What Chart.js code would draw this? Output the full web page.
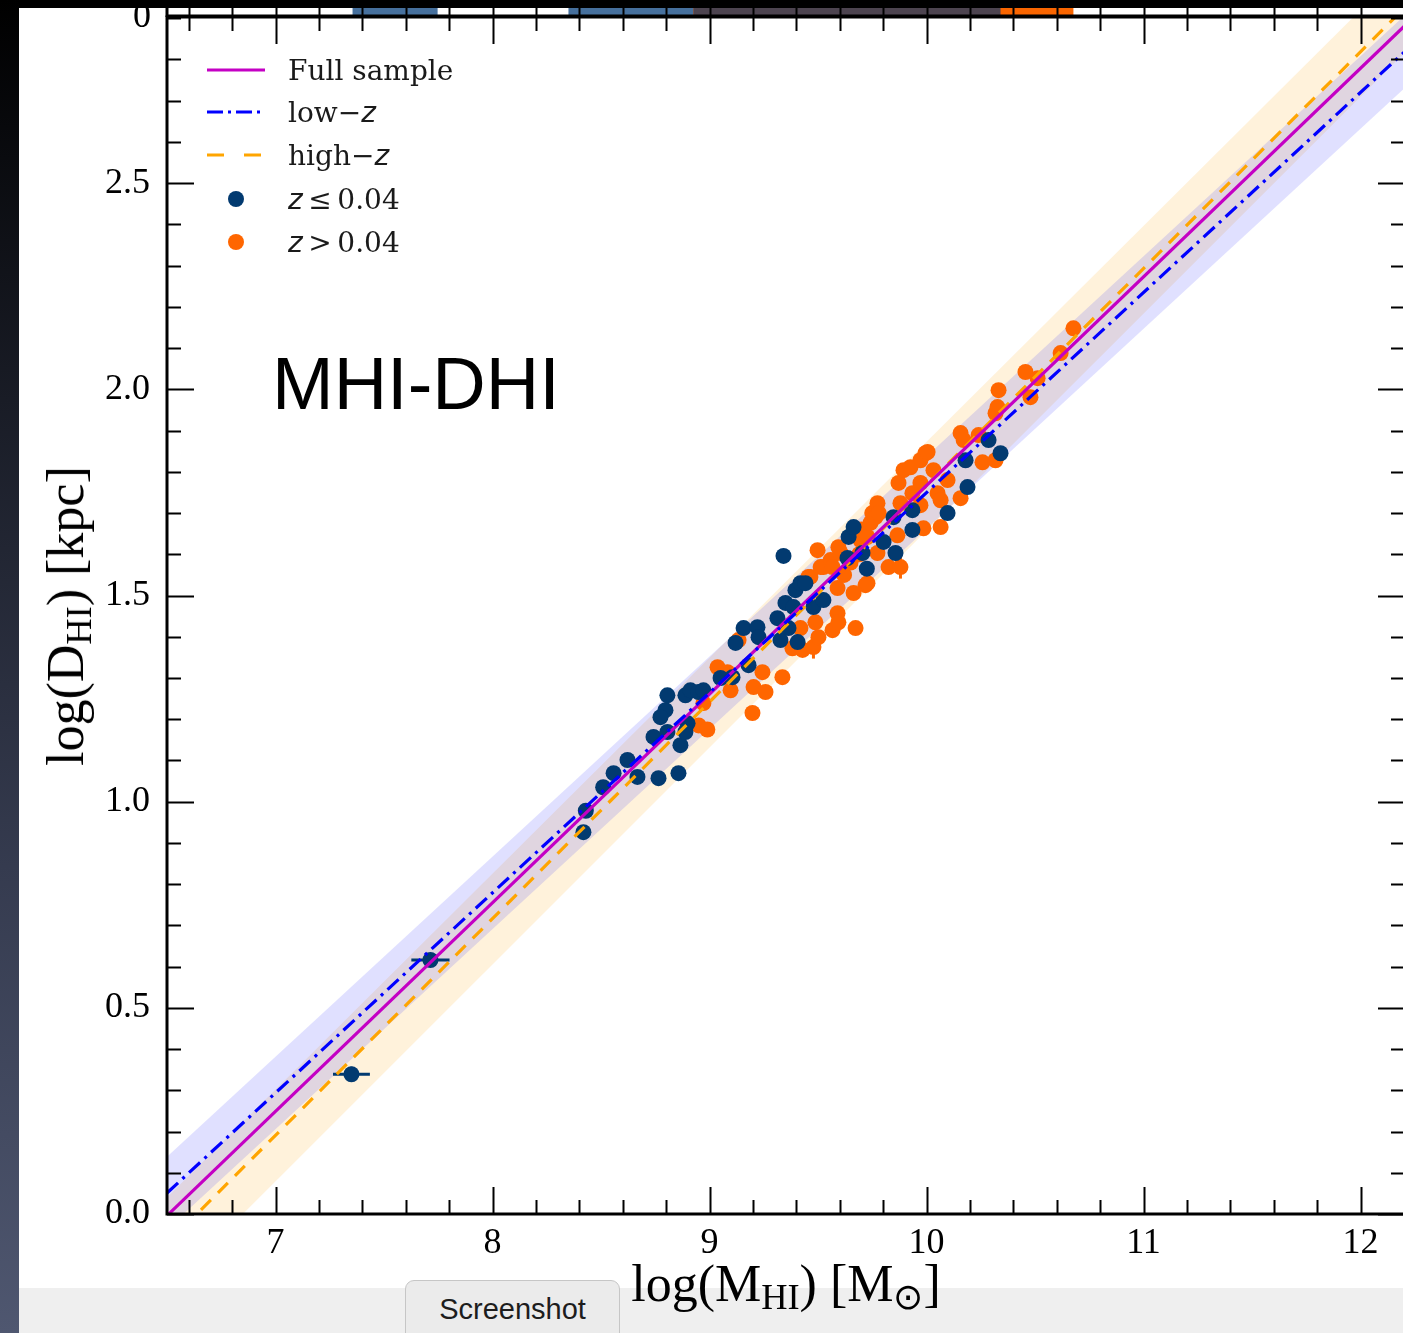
<!DOCTYPE html>
<html>
<head>
<meta charset="utf-8">
<script src="https://cdn.jsdelivr.net/npm/chart.js@4.4.1/dist/chart.umd.min.js"></script>
<style>
  html, body { margin: 0; padding: 0; background: #000; }
  #wrap { position: relative; width: 1403px; height: 1333px; overflow: hidden; background: #fff; }
  #c { position: absolute; left: 0; top: 0; z-index: 0; }
  .abs { position: absolute; white-space: nowrap; }
  #lstrip { left: 0; top: 0; width: 19px; height: 1333px; z-index: 6;
    background: linear-gradient(#000 0%, #191c26 30%, #353b4f 65%, #4f5770 100%); }
  #tstrip { left: 0; top: 0; width: 1403px; height: 8px; background: #000; z-index: 5; }
  #bstrip { left: 19px; top: 1288px; width: 1384px; height: 45px; background: #efefef; z-index: 1; }
  #shot { left: 405px; top: 1280px; width: 213px; height: 70px; background: #ebebeb; border: 1.5px solid #c6c6c6;
    border-radius: 9px; z-index: 2; font: 29px "Liberation Sans", sans-serif; color: #1d1d1d;
    text-align: center; line-height: 56px; }
  .serif { font-family: "Liberation Serif", serif; color: #000; }
  #top0 { left: 100px; width: 51px; top: -6px; font-size: 36px; line-height: 43px; text-align: right; z-index: 4; }
  #xtitle { left: 786px; top: 1258px; font-size: 52px; line-height: 1; transform: translateX(-50%); z-index: 3; }
  #ytitle { left: 66px; top: 616px; font-size: 52px; line-height: 1; transform: translate(-50%, -50%) rotate(-90deg); z-index: 3; }
  sub { font-size: 70%; vertical-align: -0.22em; line-height: 0; }
  #note { left: 272px; top: 347px; font: 74px/1 "Liberation Sans", sans-serif; color: #000; z-index: 3; }
  .lg { left: 200px; height: 40px; display: flex; align-items: center; z-index: 3;
    font: 28px "DejaVu Serif", serif; color: #1a1a1a; }
  .lg svg { width: 72px; height: 40px; margin-right: 16px; }
  .z { font-family: "DejaVu Sans", sans-serif; font-style: italic; }
</style>
</head>
<body>
<div id="wrap">
  <canvas id="c" width="1410" height="1290"></canvas>
  <div id="lstrip" class="abs"></div>
  <div id="tstrip" class="abs"></div>
  <div id="top0" class="abs serif">0</div>
  <div id="bstrip" class="abs"></div>
  <div id="shot" class="abs">Screenshot</div>
  <div id="xtitle" class="abs serif">log(M<sub>HI</sub>) [M<sub>⊙</sub>]</div>
  <div id="ytitle" class="abs serif">log(D<sub>HI</sub>) [kpc]</div>
  <div id="note" class="abs">MHI-DHI</div>

  <div class="abs lg" style="top:50px"><svg><line x1="7" y1="20" x2="65" y2="20" stroke="#c400c4" stroke-width="3"/></svg>Full sample</div>
  <div class="abs lg" style="top:92px"><svg><line x1="7" y1="20" x2="65" y2="20" stroke="#0000ff" stroke-width="3" stroke-dasharray="16 5 3 5"/></svg>low−<span class="z">z</span></div>
  <div class="abs lg" style="top:135px"><svg><line x1="7" y1="20" x2="65" y2="20" stroke="#ffa500" stroke-width="3" stroke-dasharray="17 20"/></svg>high−<span class="z">z</span></div>
  <div class="abs lg" style="top:179px"><svg><circle cx="36" cy="20" r="8" fill="#023a70"/></svg><span class="z">z</span>&thinsp;≤&thinsp;0.04</div>
  <div class="abs lg" style="top:222px"><svg><circle cx="36" cy="20" r="8" fill="#ff6600"/></svg><span class="z">z</span>&thinsp;&gt;&thinsp;0.04</div>
</div>

<script>
// axis ticks
const xTickValues = [7, 8, 9, 10, 11, 12];
const xTickLabels = ['7', '8', '9', '10', '11', '12'];
const yTickValues = [0, 0.5, 1, 1.5, 2, 2.5];
const yTickLabels = ['0.0', '0.5', '1.0', '1.5', '2.0', '2.5'];

// z <= 0.04 galaxies
const lowzX = [7.35, 7.714, 8.419, 8.43, 8.51, 8.558, 8.622, 8.668, 8.765, 8.857, 8.742, 8.806, 8.866, 8.797,
  8.774, 8.806, 8.889, 8.912, 8.949, 8.899, 8.889, 8.972, 9.051, 9.106, 9.12, 9.157, 9.221, 9.226, 9.18,
  9.313, 9.327, 9.364, 9.406, 9.341, 9.35, 9.387, 9.396, 9.419, 9.442, 9.479, 9.525, 9.636, 9.641, 9.664,
  9.705, 9.725, 9.802, 9.857, 9.848, 9.935, 9.935, 10.097, 10.189, 10.18, 10.286, 10.341];
const lowzY = [0.339, 0.616, 0.926, 0.978, 1.035, 1.069, 1.101, 1.06, 1.057, 1.069, 1.157, 1.169, 1.137, 1.222,
  1.205, 1.258, 1.258, 1.27, 1.266, 1.19, 1.169, 1.27, 1.3, 1.302, 1.385, 1.421, 1.423, 1.399, 1.331,
  1.445, 1.392, 1.421, 1.387, 1.596, 1.482, 1.472, 1.513, 1.53, 1.53, 1.472, 1.489, 1.591, 1.642, 1.666,
  1.603, 1.565, 1.63, 1.603, 1.69, 1.707, 1.659, 1.7, 1.763, 1.828, 1.877, 1.845];

// z > 0.04 galaxies
const highzX = [8.95, 8.99, 8.972, 9.037, 9.083, 9.097, 9.134, 9.198, 9.203, 9.244, 9.258, 9.336, 9.382, 9.419,
  9.429, 9.456, 9.465, 9.479, 9.488, 9.498, 9.502, 9.512, 9.525, 9.558, 9.567, 9.567, 9.59, 9.59, 9.594,
  9.594, 9.604, 9.62, 9.65, 9.664, 9.673, 9.69, 9.696, 9.70, 9.719, 9.728, 9.728, 9.742, 9.75, 9.765, 9.774,
  9.774, 9.78, 9.825, 9.866, 9.871, 9.88, 9.88, 9.894, 9.926, 9.935, 9.972, 9.972, 9.972, 9.986, 9.995,
  10.005, 10.032, 10.051, 10.065, 10.065, 10.097, 10.157, 10.171, 10.157, 10.24, 10.258, 10.318, 10.318,
  10.327, 10.332, 10.456, 10.479, 10.512, 10.618, 10.677];
const highzY = [1.185, 1.175, 1.239, 1.326, 1.314, 1.27, 1.392, 1.215, 1.278, 1.314, 1.266, 1.302, 1.372, 1.421,
  1.368, 1.545, 1.545, 1.375, 1.435, 1.61, 1.399, 1.569, 1.569, 1.586, 1.569, 1.416, 1.518, 1.457, 1.435,
  1.617, 1.603, 1.55, 1.58, 1.506, 1.421, 1.60, 1.634, 1.66, 1.525, 1.642, 1.53, 1.676, 1.70, 1.69, 1.724,
  1.603, 1.70, 1.569, 1.646, 1.773, 1.569, 1.724, 1.804, 1.811, 1.748, 1.828, 1.773, 1.719, 1.663, 1.845,
  1.848, 1.804, 1.748, 1.731, 1.666, 1.78, 1.894, 1.877, 1.736, 1.889, 1.823, 1.828, 1.942,
  1.957, 1.998, 2.042, 1.981, 2.027, 2.088, 2.148];

// error bars that show outside the markers
const errX = [7.35, 7.714, 9.479, 9.88, 9.594];
const errY = [0.339, 0.616, 1.375, 1.569, 1.435];
const errXerr = [0.085, 0.088, 0.0, 0.0, 0.0];
const errYerr = [0.018, 0.012, 0.028, 0.028, 0.025];
const errColor = ['#023a70', '#023a70', '#ff6600', '#ff6600', '#ff6600'];

// fitted relations and their scatter bands
const fitX = [6.5, 12.21];
const fullFit = [-0.004, 2.885];
const lowzFit = [0.051, 2.822];
const highzFit = [-0.072, 2.929];
const lowzBandUpper = [0.139, 2.91];
const lowzBandLower = [-0.037, 2.734];
const highzBandUpper = [0.040, 3.03];
const highzBandLower = [-0.184, 2.82];

// histogram panel above (only its lowest strip is in view)
const histLowz = [[7.355, 7.747], [8.35, 10.341]];
const histHighz = [[8.926, 10.677]];

const pts = (xs, ys) => xs.map((x, i) => ({ x: x, y: ys[i] }));

function band(ys, color, fill, order) {
  return { type: 'line', data: pts(fitX, ys), borderWidth: 0, pointRadius: 0,
    backgroundColor: color, fill: fill, order: order };
}
function fitLine(ys, color, dash, order) {
  return { type: 'line', data: pts(fitX, ys), borderColor: color, borderWidth: 3.2,
    borderDash: dash, pointRadius: 0, fill: false, order: order };
}

const errorBars = {
  id: 'errorBars',
  beforeDatasetDraw(chart, args) {
    if (chart.data.datasets[args.index].label !== 'z > 0.04') return;
    const { ctx, scales: { x, y } } = chart;
    ctx.save();
    ctx.lineWidth = 3;
    errX.forEach((v, i) => {
      ctx.strokeStyle = errColor[i];
      const px = x.getPixelForValue(v), py = y.getPixelForValue(errY[i]);
      ctx.beginPath();
      if (errXerr[i] > 0) {
        ctx.moveTo(x.getPixelForValue(v - errXerr[i]), py);
        ctx.lineTo(x.getPixelForValue(v + errXerr[i]), py);
      }
      ctx.moveTo(px, y.getPixelForValue(errY[i] - errYerr[i]));
      ctx.lineTo(px, y.getPixelForValue(errY[i] + errYerr[i]));
      ctx.stroke();
    });
    ctx.restore();
  }
};

const near = (v, step) => Math.abs(v / step - Math.round(v / step)) < 1e-6;

const frame = {
  id: 'frame',
  afterDatasetsDraw(chart) {
    const { ctx, chartArea: a, scales: { x, y } } = chart;
    ctx.save();
    // histogram strip above the axes
    const stripTop = a.top - 12;
    const span = (lo, hi) => ctx.fillRect(x.getPixelForValue(lo), stripTop, x.getPixelForValue(hi) - x.getPixelForValue(lo), 12);
    ctx.fillStyle = '#46709d';
    histLowz.forEach(s => span(s[0], s[1]));
    ctx.fillStyle = '#f96500';
    histHighz.forEach(s => span(s[0], s[1]));
    ctx.fillStyle = '#4d4450';
    histLowz.forEach(s => histHighz.forEach(h => {
      const lo = Math.max(s[0], h[0]), hi = Math.min(s[1], h[1]);
      if (hi > lo) span(lo, hi);
    }));

    ctx.strokeStyle = '#000';
    ctx.lineWidth = 2;
    ctx.beginPath();
    x.ticks.forEach(t => {
      const px = Math.round(x.getPixelForValue(t.value)) + 0.5;
      const len = near(t.value, 1) ? 27 : 14;
      ctx.moveTo(px, a.bottom); ctx.lineTo(px, a.bottom - len);
      ctx.moveTo(px, a.top); ctx.lineTo(px, a.top + len);
      ctx.moveTo(px, a.top); ctx.lineTo(px, stripTop);
    });
    y.ticks.forEach(t => {
      const py = Math.round(y.getPixelForValue(t.value)) + 0.5;
      const len = near(t.value, 0.5) ? 27 : 14;
      ctx.moveTo(a.left, py); ctx.lineTo(a.left + len, py);
      ctx.moveTo(a.right, py); ctx.lineTo(a.right - len, py);
    });
    ctx.stroke();

    ctx.lineWidth = 3;
    ctx.strokeRect(a.left, a.top, a.right - a.left, a.bottom - a.top);
    ctx.beginPath();
    ctx.moveTo(a.left, a.top); ctx.lineTo(a.left, 0);
    ctx.moveTo(a.left, a.top - 1); ctx.lineTo(a.right, a.top - 1);
    ctx.stroke();
    ctx.restore();
  }
};

const ctx = document.getElementById('c').getContext('2d');
const chart = new Chart(ctx, {
  type: 'scatter',
  data: {
    datasets: [
      band(lowzBandUpper, 'rgba(0,0,255,0.12)', '+1', 10),
      band(lowzBandLower, 'rgba(0,0,0,0)', false, 10),
      band(highzBandUpper, 'rgba(255,165,0,0.14)', '+1', 11),
      band(highzBandLower, 'rgba(0,0,0,0)', false, 11),
      { label: 'z > 0.04', data: pts(highzX, highzY), pointRadius: 8, pointBorderWidth: 0,
        pointBackgroundColor: '#ff6600', order: 6 },
      { label: 'z <= 0.04', data: pts(lowzX, lowzY), pointRadius: 8, pointBorderWidth: 0,
        pointBackgroundColor: '#023a70', order: 5 },
      fitLine(highzFit, '#ffa500', [14, 10], 3),
      fitLine(fullFit, '#c400c4', [], 2),
      fitLine(lowzFit, '#0000ff', [15, 6, 3, 6], 1)
    ]
  },
  options: {
    responsive: false,
    devicePixelRatio: 1,
    animation: false,
    events: [],
    layout: { autoPadding: false, padding: { top: 17, right: 5, bottom: 0, left: 0 } },
    plugins: { legend: { display: false }, tooltip: { enabled: false } },
    scales: {
      x: {
        type: 'linear', min: 6.5, max: 12.205,
        grid: { display: false, drawTicks: false }, border: { display: false },
        afterBuildTicks: s => { const t = []; for (let i = 33; i <= 61; i++) t.push({ value: i / 5 }); s.ticks = t; },
        afterFit: s => { s.height = 76; s.paddingLeft = 0; s.paddingRight = 0; },
        ticks: {
          autoSkip: false, maxRotation: 0, padding: 8, color: '#000',
          font: { family: 'Liberation Serif', size: 36 },
          callback: v => { const k = xTickValues.findIndex(m => Math.abs(m - v) < 1e-6); return k < 0 ? '' : xTickLabels[k]; }
        }
      },
      y: {
        type: 'linear', min: 0, max: 2.903,
        grid: { display: false, drawTicks: false }, border: { display: false },
        afterBuildTicks: s => { const t = []; for (let i = 0; i <= 29; i++) t.push({ value: i / 10 }); s.ticks = t; },
        afterFit: s => { s.width = 167; s.paddingTop = 0; s.paddingBottom = 0; },
        ticks: {
          autoSkip: false, padding: 17, color: '#000',
          font: { family: 'Liberation Serif', size: 36 },
          callback: v => { const k = yTickValues.findIndex(m => Math.abs(m - v) < 1e-6); return k < 0 ? '' : yTickLabels[k]; }
        }
      }
    }
  },
  plugins: [errorBars, frame]
});
</script>
</body>
</html>
